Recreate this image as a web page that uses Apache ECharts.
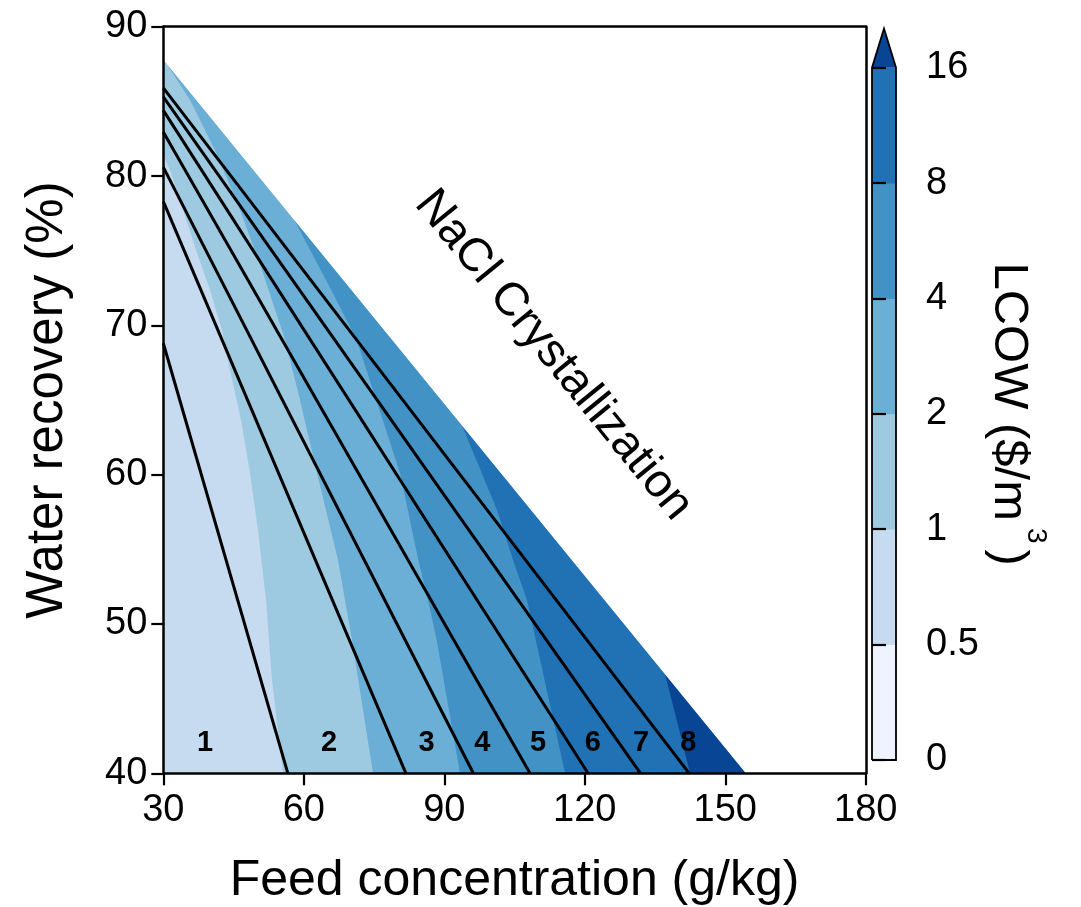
<!DOCTYPE html>
<html>
<head>
<meta charset="utf-8">
<title>LCOW map</title>
<script src="https://cdn.jsdelivr.net/npm/echarts@6/dist/echarts.min.js"></script>
<style>
  html, body { margin: 0; padding: 0; background: #fff; }
  #chart { width: 1081px; height: 907px; }
</style>
</head>
<body>
<div id="chart"></div>
<script>
(function () {
    var FONT = '"Liberation Sans", Arial, Helvetica, sans-serif';

    // axes (feed g/kg, recovery %)
    var feedTicks = [30, 60, 90, 120, 150, 180];
    var recoveryTicks = [40, 50, 60, 70, 80, 90];

    // corners of the feasible (non-crystallizing) triangle
    var regionBottomLeft = [30, 40];
    var regionTopLeft = [30, 87.8];
    var regionBottomRight = [154.4, 40];

    // LCOW contour edges, bottom -> top
    var edge1 = [[55.56, 40], [53.21, 46.24], [51.93, 51.6], [50.22, 56.29], [48.51, 60.11], [46.59, 63.66],
                 [44.24, 67.01], [42.53, 69.69], [39.97, 72.36], [37.2, 74.84], [34.21, 77.72], [31.43, 80.4], [30, 81.41]];
    var edge2 = [[74.78, 40], [70.29, 48.92], [67.3, 54.28], [62.82, 60.11], [59.19, 65.0], [55.99, 69.01],
                 [51.08, 73.7], [46.38, 77.72], [41.04, 81.74], [35.7, 85.09], [30.79, 87.49]];
    var edge3 = [[93.36, 40], [88.38, 48.92], [86.52, 51.6], [84.45, 54.28], [80.55, 60.11], [75.46, 65.0],
                 [71.3, 69.01], [65.8, 72.4], [57.91, 77.08]];
    var edge4 = [[115.78, 40], [111.89, 45.57], [107.66, 51.6], [104.67, 54.28], [101.26, 57.63], [93.78, 63.29]];
    var edge5 = [[142.47, 40], [140.34, 42.68], [138.56, 44.9], [137.13, 46.64]];

    // colour classes (0, 0.5, 1, 2, 4, 8, 16, >16)
    var levelLabels = ['0', '0.5', '1', '2', '4', '8', '16'];
    var levelColors = ['#eff3ff', '#c6dbef', '#9ecae1', '#6baed6', '#4292c6', '#2171b5', '#084594'];

    // black iso-lines: recovery where they leave x = 30, feed where they reach 40 %
    var lineTopRecovery = [68.8, 78.3, 80.6, 82.95, 84.4, 85.3, 85.9];
    var lineBottomFeed = [56.6, 81.8, 96.2, 108.3, 120.7, 131.9, 142.3];

    // region numbers along the bottom
    var zoneNames = ['1', '2', '3', '4', '5', '6', '7', '8'];
    var zoneFeed = [38.9, 65.4, 86.2, 98.1, 110.0, 121.7, 132.0, 142.1];
    var zoneRecovery = 42;

    var regionNote = 'NaCl Crystallization';
    var regionNoteAt = [113.3, 68.0];

    // polygons painted from light to dark, each one covering everything right of its edge
    var fills = [
        { pts: [regionBottomLeft, regionTopLeft, regionBottomRight], color: levelColors[1] },
        { pts: edge1.concat([regionTopLeft, regionBottomRight]), color: levelColors[2] },
        { pts: edge2.concat([regionBottomRight]), color: levelColors[3] },
        { pts: edge3.concat([regionBottomRight]), color: levelColors[4] },
        { pts: edge4.concat([regionBottomRight]), color: levelColors[5] },
        { pts: edge5.concat([regionBottomRight]), color: levelColors[6] },
        // white wedge above the saturation line trims any overshoot
        { pts: [regionTopLeft, [30, 90], [180, 90], [180, 40], regionBottomRight], color: '#ffffff' }
    ];

    var fillData = [];
    for (var f = 0; f < fills.length; f++) fillData.push([f, f]);

    var series = [{
        type: 'custom',
        xAxisIndex: 0, yAxisIndex: 0,
        silent: true,
        z: 1,
        data: fillData,
        renderItem: function (params, api) {
            var fill = fills[params.dataIndex];
            var pts = [];
            for (var i = 0; i < fill.pts.length; i++) pts.push(api.coord(fill.pts[i]));
            return { type: 'polygon', shape: { points: pts }, style: { fill: fill.color, stroke: null } };
        }
    }];

    for (var k = 0; k < lineTopRecovery.length; k++) {
        series.push({
            type: 'line',
            xAxisIndex: 0, yAxisIndex: 0,
            silent: true,
            z: 3,
            symbol: 'none',
            lineStyle: { color: '#000', width: 3 },
            data: [[30, lineTopRecovery[k]], [lineBottomFeed[k], 40]]
        });
    }

    // plain black text labels (no inherited opacity or border)
    function textLabel(size, weight, rotate, formatter) {
        return {
            show: true, position: 'inside', rotate: rotate,
            formatter: formatter,
            fontFamily: FONT, fontSize: size, fontWeight: weight,
            color: '#000', opacity: 1, textBorderWidth: 0, textShadowBlur: 0
        };
    }

    var zoneData = [];
    for (var z = 0; z < zoneNames.length; z++) zoneData.push([zoneFeed[z], zoneRecovery, zoneNames[z]]);
    series.push({
        type: 'scatter',
        xAxisIndex: 0, yAxisIndex: 0,
        silent: true,
        z: 4,
        symbolSize: 1,
        itemStyle: { opacity: 0 },
        data: zoneData,
        label: textLabel(29, 'bold', 0, function (p) { return p.value[2]; })
    });

    series.push({
        type: 'scatter',
        xAxisIndex: 0, yAxisIndex: 0,
        silent: true,
        z: 4,
        symbolSize: 1,
        itemStyle: { opacity: 0 },
        data: [regionNoteAt],
        label: textLabel(47, 'normal', -50.8, regionNote)
    });

    // colour bar: one block per class plus the ">16" arrow
    var arrowLength = 0.34;
    var barData = [];
    for (var b = 0; b < levelColors.length; b++) barData.push([b, b]);
    series.push({
        type: 'custom',
        xAxisIndex: 2, yAxisIndex: 2,
        silent: true,
        clip: false,
        z: 2,
        data: barData,
        renderItem: function (params, api) {
            var i = params.dataIndex;
            var top = levelLabels.length - 1;
            if (i < top) {
                var p0 = api.coord([0, i]);
                var p1 = api.coord([1, i + 1]);
                return { type: 'rect', shape: { x: p0[0], y: p1[1], width: p1[0] - p0[0], height: p0[1] - p1[1] + 0.5 },
                         style: { fill: levelColors[i] } };
            }
            return { type: 'polygon',
                     shape: { points: [api.coord([0, top]), api.coord([1, top]), api.coord([0.5, top + arrowLength])] },
                     style: { fill: levelColors[i] } };
        }
    });
    series.push({
        type: 'custom',
        xAxisIndex: 2, yAxisIndex: 2,
        silent: true,
        clip: false,
        z: 3,
        data: [[0, 0]],
        renderItem: function (params, api) {
            var top = levelLabels.length - 1;
            var pts = [api.coord([0, 0]), api.coord([1, 0]), api.coord([1, top]),
                       api.coord([0.5, top + arrowLength]), api.coord([0, top]), api.coord([0, 0])];
            return { type: 'polyline', shape: { points: pts }, style: { stroke: '#000', lineWidth: 1.8, fill: null } };
        }
    });

    var axisLine = { show: true, lineStyle: { color: '#000', width: 2.5 } };
    var tickStyle = { show: true, inside: false, length: 12, lineStyle: { color: '#000', width: 2.2 } };

    var option = {
        animation: false,
        backgroundColor: '#fff',
        grid: [
            { left: 163.3, right: 215.2, top: 26.7, bottom: 133.7, outerBoundsMode: 'none', containLabel: false },
            { left: 872, top: 67.7, width: 24, height: 692.3, outerBoundsMode: 'none', containLabel: false }
        ],
        xAxis: [{
            gridIndex: 0, type: 'value', position: 'bottom', z: 10,
            min: feedTicks[0], max: feedTicks[feedTicks.length - 1], interval: feedTicks[1] - feedTicks[0],
            axisLine: axisLine, axisTick: tickStyle, splitLine: { show: false },
            axisLabel: { margin: 18, fontFamily: FONT, fontSize: 38, color: '#000' },
            name: 'Feed concentration (g/kg)', nameLocation: 'middle', nameGap: 83, nameMoveOverlap: false,
            nameTextStyle: { fontFamily: FONT, fontSize: 50, color: '#000' }
        }, {
            gridIndex: 0, type: 'value', position: 'top', z: 10,
            min: feedTicks[0], max: feedTicks[feedTicks.length - 1],
            axisLine: axisLine, axisTick: { show: false }, axisLabel: { show: false }, splitLine: { show: false }
        }, {
            gridIndex: 1, type: 'value', min: 0, max: 1, show: false
        }],
        yAxis: [{
            gridIndex: 0, type: 'value', position: 'left', z: 10,
            min: recoveryTicks[0], max: recoveryTicks[recoveryTicks.length - 1], interval: recoveryTicks[1] - recoveryTicks[0],
            axisLine: axisLine, axisTick: tickStyle, splitLine: { show: false },
            axisLabel: { margin: 16, fontFamily: FONT, fontSize: 38, color: '#000' },
            name: 'Water recovery (%)', nameLocation: 'middle', nameRotate: 90, nameGap: 90, nameMoveOverlap: false,
            nameTextStyle: { fontFamily: FONT, fontSize: 51, color: '#000' }
        }, {
            gridIndex: 0, type: 'value', position: 'right', z: 10,
            min: recoveryTicks[0], max: recoveryTicks[recoveryTicks.length - 1],
            axisLine: axisLine, axisTick: { show: false }, axisLabel: { show: false }, splitLine: { show: false }
        }, {
            gridIndex: 1, type: 'value', position: 'right', z: 10,
            min: 0, max: levelLabels.length - 1, interval: 1,
            axisLine: { show: false }, splitLine: { show: false },
            axisTick: { show: true, inside: false, length: 14, lineStyle: { color: '#000', width: 2.2 } },
            axisLabel: {
                margin: 30, fontFamily: FONT, fontSize: 38, color: '#000',
                formatter: function (v) { return levelLabels[Math.round(v)]; }
            },
            // spacer token makes the line tall enough to lift the exponent
            name: '{h| }{m|LCOW ($/m}{s|3}{m|)}',
            nameLocation: 'middle', nameRotate: -90, nameGap: 88, nameMoveOverlap: false,
            nameTextStyle: {
                fontFamily: FONT, color: '#000',
                rich: {
                    h: { fontFamily: FONT, fontSize: 2, lineHeight: 66, verticalAlign: 'middle' },
                    m: { fontFamily: FONT, fontSize: 49, color: '#000', lineHeight: 49, verticalAlign: 'bottom' },
                    s: { fontFamily: FONT, fontSize: 28, color: '#000', lineHeight: 28, verticalAlign: 'top',
                         padding: [0, 6, 0, 7] }
                }
            }
        }],
        series: series
    };

    var chart = echarts.init(document.getElementById('chart'), null, { renderer: 'canvas' });
    chart.setOption(option);
})();
</script>
</body>
</html>
